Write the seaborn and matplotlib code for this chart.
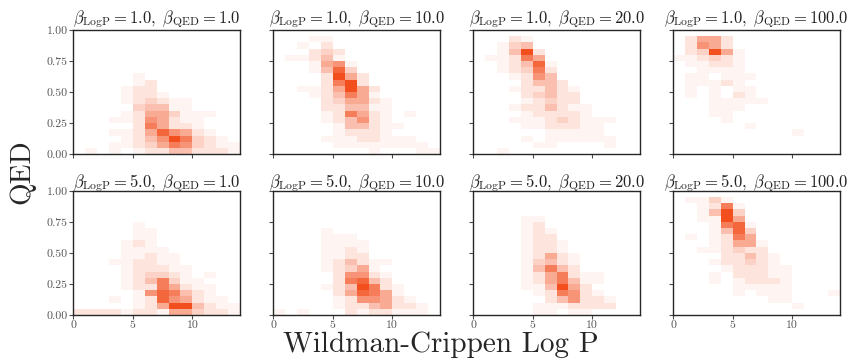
import numpy as np
import pandas as pd
import matplotlib
matplotlib.use("Agg")
import matplotlib.pyplot as plt
import seaborn as sns
from matplotlib.colors import LinearSegmentedColormap

sns.set_theme(style="white")
plt.rcParams.update({
    "font.family": "serif",
    "font.serif": ["cmr10"],
    "mathtext.fontset": "cm",
    "axes.formatter.use_mathtext": True,
    "axes.unicode_minus": False,
})

# Sampling temperatures for each row / column of the grid
beta_logp = [1.0, 5.0]
beta_qed = [1.0, 10.0, 20.0, 100.0]

# Histogram layout: 14 LogP bins of width 1 on [0, 14], 20 QED bins of width 0.05 on [0, 1]
logp_range = (0, 14)
qed_range = (0, 1)
n_logp_bins = 14
n_qed_bins = 20

# Relative bin counts (0-9), one string per QED bin from the top (0.95-1.00)
# down to the bottom (0.00-0.05); each character is one LogP bin from 0 to 14.
counts_1_1 = [
    "00000000000000", "00000000000000", "00000000000000", "00000000000000",
    "00000000000000", "00000000000000", "00000000000000", "00000100000000",
    "00000120000000", "00001220000000", "00001221000000", "00001232110000",
    "00000344110000", "00001255311100", "00011265211000", "00000275221000",
    "00011258652100", "00001246973210", "00011235763211", "01010122442221",
]
counts_1_10 = [
    "00000000000000", "00011000000000", "00102000000000", "00023200000000",
    "01124100000000", "00015610000000", "00014830000000", "00002952000000",
    "00002792000000", "00112595200000", "00012475100000", "00002355210000",
    "00002244110000", "00001275210100", "00001246210000", "00000144211000",
    "00000122210000", "00001112211100", "00000111111110", "00000000100011",
]
counts_1_20 = [
    "00000000000000", "00021000000000", "00134000000000", "00149200000000",
    "01127500000000", "00124810000000", "00123720000000", "00012640000000",
    "00002442000000", "00012242100000", "00002342200000", "00001232200000",
    "00012242110000", "00001222210000", "00011123211100", "00001122211000",
    "00000011111000", "00001011111100", "00000110000100", "00100000000000",
]
counts_1_100 = [
    "00000000000000", "02552000000000", "02652000000000", "02395100000000",
    "11232100000000", "01122100000000", "00111100000000", "01101110000000",
    "01112100000000", "01010110000000", "01010210000000", "00011111000000",
    "00011100000000", "00011000000000", "00001000000000", "00000010000000",
    "00000000001000", "00000000000000", "00000000000000", "00000000000000",
]
counts_5_1 = [
    "00000000000000", "00000000000000", "00000000000000", "00000000000000",
    "00000000000000", "00000100000000", "00000110000000", "00000110000000",
    "00001210000000", "00001111000000", "00001121100000", "00011221100000",
    "00001222110000", "00001233210100", "00001247311000", "00001227521100",
    "00000168742100", "00010128652110", "00000125994211", "22221221553221",
]
counts_5_10 = [
    "00000000000000", "00000000000000", "00000000000000", "00000000000000",
    "00000000000000", "00000000000000", "00001000000000", "00001110000000",
    "00001111000000", "00001121000000", "00001122000000", "00001242110000",
    "00001235100000", "00000266210000", "00000278420000", "00001249721000",
    "00000258751000", "00000126652100", "00000122452210", "10100021221110",
]
counts_5_20 = [
    "00000000000000", "00000000000000", "00000000000000", "00000000000000",
    "00001100000000", "00001200000000", "00001210000000", "00001220000000",
    "00001221000000", "00001221000000", "00001252100000", "00001342100000",
    "00001474200000", "00001257211000", "00001257411000", "00001149520000",
    "00000127621000", "00000024622100", "00000111222200", "00000110110000",
]
counts_5_100 = [
    "00000000000000", "01131000000000", "00127100000000", "00149300000000",
    "00119500000000", "00017810000000", "00014830000000", "01012750000000",
    "00012551000000", "00112322000000", "00002242100000", "00012232100000",
    "00001222110000", "00010222110000", "00010122210000", "00000111110000",
    "00000101110001", "00000000110000", "00000000001000", "00000000000000",
]

panel_counts = {
    (1.0, 1.0): counts_1_1, (1.0, 10.0): counts_1_10,
    (1.0, 20.0): counts_1_20, (1.0, 100.0): counts_1_100,
    (5.0, 1.0): counts_5_1, (5.0, 10.0): counts_5_10,
    (5.0, 20.0): counts_5_20, (5.0, 100.0): counts_5_100,
}

yticks = [0.0, 0.25, 0.50, 0.75, 1.00]
xticks = [0, 5, 10]

# White-to-orange-red ramp, gamma-stretched so sparse bins stay pale
cmap = LinearSegmentedColormap.from_list("heat", ["#ffffff", "#f24e1e"], gamma=1.25)


def to_frame(rows):
    """Turn the digit strings into a long table of bin centres and weights."""
    grid = np.array([[int(c) for c in r] for r in rows], dtype=float)[::-1]
    x_step = (logp_range[1] - logp_range[0]) / n_logp_bins
    y_step = (qed_range[1] - qed_range[0]) / n_qed_bins
    xc = logp_range[0] + x_step * (np.arange(n_logp_bins) + 0.5)
    yc = qed_range[0] + y_step * (np.arange(n_qed_bins) + 0.5)
    xx, yy = np.meshgrid(xc, yc)
    return pd.DataFrame({"logp": xx.ravel(), "qed": yy.ravel(), "count": grid.ravel()})


fig, axes = plt.subplots(2, 4, figsize=(8.5, 3.62), dpi=100)
fig.subplots_adjust(left=0.0863, right=0.988, top=0.917, bottom=0.130,
                    wspace=0.2, hspace=0.296)

for i, bl in enumerate(beta_logp):
    for j, bq in enumerate(beta_qed):
        ax = axes[i, j]
        df = to_frame(panel_counts[(bl, bq)])
        sns.histplot(data=df, x="logp", y="qed", weights="count",
                     bins=(n_logp_bins, n_qed_bins),
                     binrange=(logp_range, qed_range),
                     cmap=cmap, vmin=0, vmax=9, ax=ax)
        ax.set_xlim(*logp_range)
        ax.set_ylim(*qed_range)
        ax.set_xticks(xticks)
        ax.set_yticks(yticks)
        ax.set_xlabel("")
        ax.set_ylabel("")
        if j == 0:
            ax.set_yticklabels([f"{v:.2f}" for v in yticks])
        else:
            ax.set_yticklabels([])
        if i == 1:
            ax.set_xticklabels([str(v) for v in xticks])
        else:
            ax.set_xticklabels([])
        ax.tick_params(left=True, bottom=True, length=3, width=0.8,
                       color="0.3", labelsize=8.5, labelcolor="#555555", pad=1)
        for s in ax.spines.values():
            s.set_visible(True)
            s.set_color("0.15")
            s.set_linewidth(1.0)
        ax.set_title(rf"$\beta_{{\rm LogP}} = {bl:.1f},\ \beta_{{\rm QED}} = {bq:.1f}$",
                     fontsize=12, pad=3, color="#222222")

fig.text(0.519, 0.047, "Wildman-Crippen Log P", ha="center", va="center", fontsize=21)
fig.text(0.026, 0.525, "QED", ha="center", va="center", rotation=90, fontsize=21)

fig.savefig("out.png", dpi=100)
